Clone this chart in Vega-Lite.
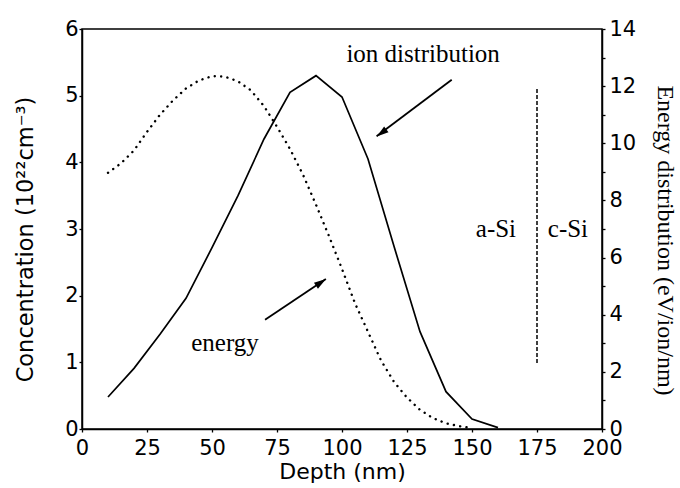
{
  "$schema": "https://vega.github.io/schema/vega-lite/v6.json",
  "width": 520,
  "height": 400,
  "autosize": "none",
  "padding": {"left": 82, "top": 29, "right": 78, "bottom": 59},
  "background": "white",
  "config": {
    "view": {"stroke": "black", "strokeWidth": 1.5},
    "axis": {
      "domainColor": "black", "domainWidth": 1.5,
      "ticks": true,
      "tickColor": "black", "tickWidth": 1.3, "tickSize": 3,
      "labelColor": "black", "labelFont": "DejaVu Sans", "labelFontSize": 21,
      "titleColor": "black", "titleFont": "DejaVu Sans", "titleFontSize": 22, "titleFontWeight": "normal",
      "grid": false, "labelFlush": false, "labelOverlap": false
    }
  },
  "datasets": {
    "ion": [
      {"x": 10, "y": 0.48}, {"x": 20, "y": 0.91}, {"x": 30, "y": 1.42}, {"x": 40, "y": 1.96},
      {"x": 50, "y": 2.72}, {"x": 60, "y": 3.5}, {"x": 70, "y": 4.35}, {"x": 80, "y": 5.05},
      {"x": 90, "y": 5.3}, {"x": 100, "y": 4.98}, {"x": 110, "y": 4.05}, {"x": 120, "y": 2.74},
      {"x": 130, "y": 1.46}, {"x": 140, "y": 0.56}, {"x": 150, "y": 0.15}, {"x": 160, "y": 0.02}
    ],
    "energy": [
      {"x": 10, "e": 8.97}, {"x": 15, "e": 9.3}, {"x": 20, "e": 9.75}, {"x": 25, "e": 10.4},
      {"x": 30, "e": 11.0}, {"x": 35, "e": 11.5}, {"x": 40, "e": 11.92}, {"x": 45, "e": 12.2},
      {"x": 50, "e": 12.35}, {"x": 55, "e": 12.33}, {"x": 60, "e": 12.17}, {"x": 65, "e": 11.85},
      {"x": 70, "e": 11.3}, {"x": 75, "e": 10.58}, {"x": 80, "e": 9.8}, {"x": 85, "e": 8.9},
      {"x": 90, "e": 7.85}, {"x": 95, "e": 6.75}, {"x": 100, "e": 5.6}, {"x": 105, "e": 4.4},
      {"x": 110, "e": 3.4}, {"x": 115, "e": 2.4}, {"x": 120, "e": 1.65}, {"x": 125, "e": 1.1},
      {"x": 130, "e": 0.67}, {"x": 135, "e": 0.38}, {"x": 140, "e": 0.2}, {"x": 145, "e": 0.1},
      {"x": 150, "e": 0.03}
    ],
    "labels": [
      {"x": 131.2, "y": 5.62, "label": "ion distribution"},
      {"x": 55, "y": 1.29, "label": "energy"},
      {"x": 159.2, "y": 3.0, "label": "a-Si"},
      {"x": 186.9, "y": 3.0, "label": "c-Si"}
    ],
    "arrows": [
      {"x": 142.2, "y": 5.24, "x2": 113.3, "y2": 4.39},
      {"x": 70.4, "y": 1.64, "x2": 93.8, "y2": 2.25}
    ],
    "head_ion": [{"x": 115.2, "y": 4.44}],
    "head_energy": [{"x": 91.9, "y": 2.2}],
    "boundary": [{"x": 175, "y": 0.99, "y2": 5.1}]
  },
  "layer": [
    {
      "layer": [
        {
          "data": {"name": "ion"},
          "mark": {"type": "line", "color": "black", "strokeWidth": 1.7},
          "encoding": {
            "x": {
              "field": "x", "type": "quantitative", "scale": {"domain": [0, 200]},
              "axis": {
                "title": "Depth (nm)", "orient": "bottom",
                "values": [0, 12.5, 25, 37.5, 50, 62.5, 75, 87.5, 100, 112.5, 125, 137.5, 150, 162.5, 175, 187.5, 200],
                "labelExpr": "datum.value % 25 === 0 ? format(datum.value, 'd') : ''",
                "labelPadding": 5, "titleY": 42, "titleBaseline": "middle"
              }
            },
            "y": {
              "field": "y", "type": "quantitative", "scale": {"domain": [0, 6]},
              "axis": {
                "title": "Concentration (10²²cm⁻³)", "orient": "left",
                "values": [0, 0.5, 1, 1.5, 2, 2.5, 3, 3.5, 4, 4.5, 5, 5.5, 6],
                "labelExpr": "datum.value % 1 === 0 ? format(datum.value, 'd') : ''",
                "labelPadding": 1, "titleX": -57, "titleY": 210, "titleBaseline": "middle", "titleFontSize": 22.5
              }
            }
          }
        },
        {
          "data": {"name": "boundary"},
          "mark": {"type": "rule", "color": "black", "strokeWidth": 1.5, "strokeDash": [4, 2]},
          "encoding": {
            "x": {"field": "x", "type": "quantitative"},
            "y": {"field": "y", "type": "quantitative"},
            "y2": {"field": "y2"}
          }
        },
        {
          "data": {"name": "arrows"},
          "mark": {"type": "rule", "color": "black", "strokeWidth": 1.8},
          "encoding": {
            "x": {"field": "x", "type": "quantitative"},
            "y": {"field": "y", "type": "quantitative"},
            "x2": {"field": "x2"},
            "y2": {"field": "y2"}
          }
        },
        {
          "data": {"name": "head_ion"},
          "mark": {"type": "point", "shape": "M0,-1L0.6,1L-0.6,1Z", "size": 144, "angle": 233, "filled": true, "color": "black", "opacity": 1},
          "encoding": {
            "x": {"field": "x", "type": "quantitative"},
            "y": {"field": "y", "type": "quantitative"}
          }
        },
        {
          "data": {"name": "head_energy"},
          "mark": {"type": "point", "shape": "M0,-1L0.6,1L-0.6,1Z", "size": 144, "angle": 56, "filled": true, "color": "black", "opacity": 1},
          "encoding": {
            "x": {"field": "x", "type": "quantitative"},
            "y": {"field": "y", "type": "quantitative"}
          }
        },
        {
          "data": {"name": "labels"},
          "mark": {"type": "text", "font": "Liberation Serif", "fontSize": 25, "color": "black", "align": "center", "baseline": "middle"},
          "encoding": {
            "x": {"field": "x", "type": "quantitative"},
            "y": {"field": "y", "type": "quantitative"},
            "text": {"field": "label"}
          }
        }
      ]
    },
    {
      "data": {"name": "energy"},
      "mark": {"type": "line", "color": "black", "strokeWidth": 2.4, "strokeDash": [0.1, 6.3], "strokeCap": "round"},
      "encoding": {
        "x": {"field": "x", "type": "quantitative"},
        "y": {
          "field": "e", "type": "quantitative", "scale": {"domain": [0, 14]},
          "axis": {
            "title": "Energy distribution (eV/ion/nm)", "orient": "right",
            "values": [0, 1, 2, 3, 4, 5, 6, 7, 8, 9, 10, 11, 12, 13, 14],
            "labelExpr": "datum.value % 2 === 0 ? format(datum.value, 'd') : ''",
            "labelPadding": 4, "labelAlign": "left",
            "titleFont": "Liberation Serif", "titleFontSize": 24, "titleAngle": 90,
            "titleX": 62, "titleY": 211, "titleBaseline": "middle"
          }
        }
      }
    }
  ],
  "resolve": {"scale": {"y": "independent"}}
}
